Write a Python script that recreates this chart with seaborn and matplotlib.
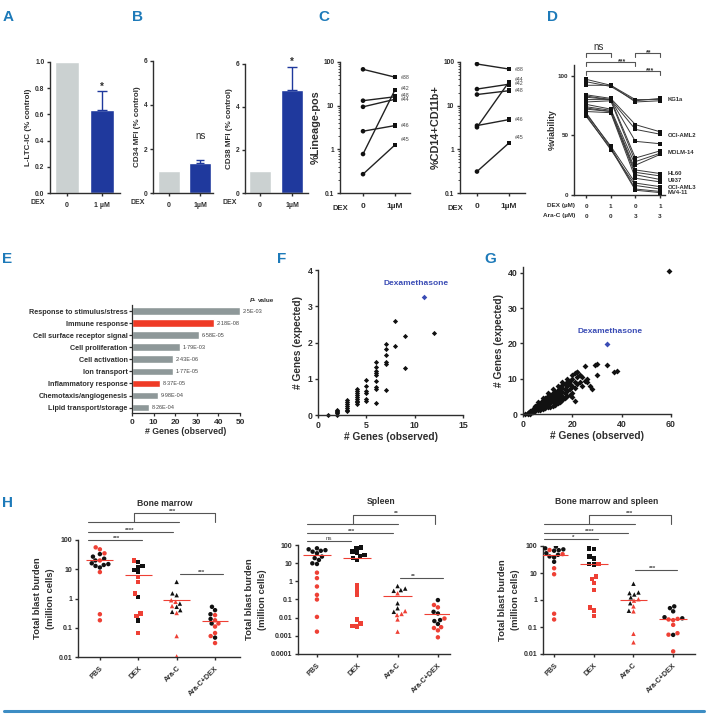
import numpy as np
import pandas as pd
import matplotlib
matplotlib.use("Agg")
import matplotlib.pyplot as plt
import seaborn as sns
from matplotlib.lines import Line2D
from matplotlib.transforms import blended_transform_factory

# ---------------- data ----------------
A_dex = ["0", "1 µM"]
A_ltcic = [1.0, 0.63]
A_err = [0.0, 0.145]

B_dex = ["0", "1µM"]
B_cd34 = [1.0, 1.35]
B_cd34_err = [0.0, 0.13]
B_cd38 = [1.0, 4.8]
B_cd38_err = [0.0, 1.05]

C_dex = ["0", "1µM"]
C_ids = ["#38", "#42", "#48", "#46", "#44", "#45"]
C_lin_ctrl = [68, 13, 9.4, 2.6, 0.78, 0.27]
C_lin_dex = [45, 16, 14, 3.5, 23, 1.26]
C_cd14_ctrl = [90, 24, 18, 3.5, 3.2, 0.31]
C_cd14_dex = [69, 31, 22, 4.8, 35, 1.4]

D_dex = ["0", "1", "0", "1"]
D_arac = ["0", "0", "3", "3"]
D_viability = [
    [97, 92, 80, 80], [95, 91, 79, 81], [92, 92, 78, 79],
    [84, 81, 59, 53], [82, 80, 55, 51], [83, 80, 45, 43],
    [80, 80, 31, 37], [78, 79, 28, 35], [76, 72, 25, 34],
    [74, 71, 21, 18], [72, 70, 19, 16], [73, 70, 17, 13],
    [70, 69, 14, 11], [68, 41, 10, 7], [67, 38, 8, 5],
    [69, 40, 5, 3], [66, 39, 4, 2],
]
D_cell_lines = ["KG1a", "OCI-AML2", "MOLM-14", "HL60", "U937", "OCI-AML3", "MV4-11"]
D_cell_line_y = [80, 50, 36, 18, 12, 6.5, 2.0]

E_terms = ["Response to stimulus/stress", "Immune response", "Cell surface receptor signal",
           "Cell proliferation", "Cell activation", "Ion transport", "Inflammatory response",
           "Chemotaxis/angiogenesis", "Lipid transport/storage"]
E_genes = [50, 38, 31, 22, 19, 19, 13, 12, 8]
E_pvalues = ["2·5E-03", "2·18E-08", "6·58E-05", "1·79E-03", "2·43E-06", "1·77E-05",
             "8·37E-05", "9·98E-04", "8·26E-04"]
E_highlight = [False, True, False, False, False, False, True, False, False]

F_observed = [1, 2, 2, 2, 2, 2, 3, 3, 3, 3, 3, 3, 3, 4, 4, 4, 4, 4, 4, 4, 4, 4,
              5, 5, 5, 5, 5, 5, 6, 6, 6, 6, 6, 6, 6, 6, 6, 7, 7, 7, 7, 7, 7, 8, 8, 9, 9, 12]
F_expected = [0, 0, 0.05, 0.08, 0.1, 0.13, 0.1, 0.15, 0.2, 0.25, 0.3, 0.35, 0.42,
              0.3, 0.35, 0.4, 0.45, 0.5, 0.55, 0.6, 0.65, 0.72,
              0.38, 0.45, 0.6, 0.65, 0.8, 0.97,
              0.32, 0.72, 0.78, 0.95, 1.1, 1.15, 1.22, 1.32, 1.45,
              0.7, 1.42, 1.47, 1.65, 1.82, 1.97, 1.9, 2.6, 1.3, 2.17, 2.27]
F_dexa = (11, 3.25)

G_observed = [1, 2, 2, 2, 3, 3, 3, 3, 4, 4, 4, 5, 5, 5, 5, 6, 6, 6, 6, 7, 7, 7, 7,
              8, 8, 8, 8, 8, 9, 9, 9, 9, 9, 10, 10, 10, 10, 10, 11, 11, 11, 11, 11,
              12, 12, 12, 12, 12, 13, 13, 13, 13, 13, 14, 14, 14, 14, 14,
              15, 15, 15, 15, 15, 16, 16, 16, 16, 16, 17, 17, 17, 17, 18, 18, 18, 18,
              19, 19, 19, 19, 20, 20, 20, 20, 21, 21, 21, 21, 22, 22, 22, 23, 24, 25, 25,
              26, 27, 28, 29, 30, 30, 34, 37, 38, 59,
              6, 8, 10, 12, 14, 16, 18, 20, 22, 23, 24, 26]
G_expected = [0.1, 0.0, 0.2, 0.4, 0.1, 0.3, 0.6, 0.9, 0.5, 1.0, 1.4, 0.8, 1.3, 1.9, 2.2,
              1.0, 1.6, 2.3, 2.8, 1.2, 2.0, 2.6, 3.2,
              1.5, 2.2, 3.0, 3.6, 4.0, 1.6, 2.5, 3.2, 3.9, 4.5, 1.9, 2.8, 3.5, 4.2, 5.0,
              2.0, 3.0, 3.8, 4.6, 5.4, 2.4, 3.3, 4.2, 5.1, 6.0, 2.6, 3.6, 4.5, 5.5, 6.3,
              3.0, 4.0, 5.0, 6.0, 6.8, 3.5, 4.5, 5.5, 6.5, 7.3, 4.0, 5.2, 6.2, 7.5, 8.2,
              4.5, 6.0, 7.0, 8.5, 5.0, 6.5, 8.0, 9.0, 5.5, 7.0, 8.5, 9.5,
              4.8, 6.0, 8.0, 10.0, 3.8, 7.5, 9.0, 11.5, 10.5, 12.0, 8.5, 9.0, 10.5,
              9.5, 13.5, 9.0, 8.0, 7.0, 14.0, 11.0, 14.2, 14.0, 12.0, 12.3, 40.5,
              3.4, 4.6, 6.0, 7.2, 8.0, 9.2, 10.0, 11.0, 12.0, 11.0, 8.0, 10.0]
G_dexa = (34, 19.8)

H_groups = ["PBS", "DEX", "Ara-C", "Ara-C+DEX"]
bm_black = [[33, 27, 23, 20, 16, 15, 14, 13, 11.5],
            [18, 13, 11.5, 9.3, 8, 1.15, 0.18],
            [3.7, 1.5, 1.3, 0.67, 0.52, 0.4, 0.35],
            [0.52, 0.4, 0.29, 0.2, 0.14, 0.046]]
bm_red = [[56, 48, 35, 20, 8, 0.29, 0.18],
          [20, 5.5, 3.7, 1.5, 0.31, 0.25, 0.067],
          [0.87, 0.77, 0.55, 0.32, 0.052, 0.0105],
          [0.27, 0.18, 0.14, 0.11, 0.066, 0.052, 0.03]]
bm_median = [20, 6.3, 0.87, 0.17]

sp_black = [[66, 58, 52, 48, 43, 35, 23, 19, 15, 9.8, 9],
            [74, 66, 43, 38, 28, 24, 19, 15],
            [0.55, 0.4, 0.33, 0.3, 0.062, 0.033, 0.021],
            [0.093, 0.021, 0.017, 0.0074, 0.0065, 0.0045]]
sp_red = [[3, 1.5, 0.52, 0.18, 0.1, 0.011, 0.0017],
          [0.63, 0.36, 0.19, 0.0081, 0.0049, 0.0032, 0.0035],
          [0.22, 0.023, 0.016, 0.014, 0.008, 0.0017],
          [0.05, 0.037, 0.009, 0.003, 0.0027, 0.002, 0.00083]]
sp_median = [28, 20, 0.15, 0.015]

bs_black = [[95, 88, 82, 75, 70, 67, 54, 47, 41, 38, 26],
            [82, 78, 41, 35, 22, 21],
            [4, 1.9, 1.8, 1.6, 1.25, 0.76, 0.4],
            [0.58, 0.5, 0.38, 0.23, 0.21, 0.051]]
bs_red = [[71, 50, 15, 9, 0.31, 0.19],
          [22, 7.4, 6, 4.2, 2.4, 0.52, 0.41, 0.26],
          [1.07, 0.95, 0.58, 0.38, 0.056, 0.027],
          [0.2, 0.19, 0.18, 0.12, 0.059, 0.052, 0.0125]]
bs_median = [45, 22, 1.0, 0.19]

# ---------------- style ----------------
sns.set_theme(style="ticks")
plt.rcParams["font.family"] = ["Liberation Sans", "DejaVu Sans"]
plt.rcParams["font.weight"] = "bold"
plt.rcParams["axes.labelweight"] = "bold"
INK = "#2e2e2e"
GRAY = "#cbd1d1"
BLUE = "#1f399d"
LETTER = "#1d7ab9"
EGRAY = "#8e9899"
ERED = "#ef3b26"
HRED = "#ee4035"
DBLUE = "#3a4cb5"
plt.rcParams["text.color"] = INK
plt.rcParams["axes.labelcolor"] = INK

W, Hh = 708, 714
fig = plt.figure(figsize=(W / 100, Hh / 100), dpi=100)


def add_ax(l, t, r, b):
    return fig.add_axes([l / W, 1 - b / Hh, (r - l) / W, (b - t) / Hh])


def ftext(x, y, s, **kw):
    fig.text(x / W, 1 - y / Hh, s, **kw)


def style(ax, lw=1.0, fs=5.0):
    sns.despine(ax=ax)
    for sp in ["left", "bottom"]:
        ax.spines[sp].set_color(INK)
        ax.spines[sp].set_linewidth(lw)
    ax.tick_params(colors=INK, width=lw, length=2.5, pad=1.5, labelsize=fs)
    ax.tick_params(which="minor", colors=INK, width=0.6, length=1.5)
    ax.set_facecolor("none")


def bline(ax, x0, x1, ypx, tips=0.0, color="#555555", lw=0.8):
    tr = blended_transform_factory(ax.transData, fig.transFigure)
    y = 1 - ypx / Hh
    if tips:
        yt = 1 - (ypx + tips) / Hh
        xs, ys = [x0, x0, x1, x1], [yt, y, y, yt]
    else:
        xs, ys = [x0, x1], [y, y]
    fig.add_artist(Line2D(xs, ys, transform=tr, color=color, lw=lw, clip_on=False))


def btext(ax, x, ypx, s, **kw):
    tr = blended_transform_factory(ax.transData, fig.transFigure)
    ax.text(x, 1 - ypx / Hh, s, transform=tr, clip_on=False, **kw)


# panel letters
for lab, (x, y) in {"A": (3, 17), "B": (132, 17), "C": (318, 17), "D": (547, 17),
                    "E": (2, 259), "F": (277, 259), "G": (484, 259), "H": (2, 503)}.items():
    ftext(x, y, lab, color=LETTER, fontsize=11, fontweight="bold", va="center", ha="left")

# ---------------- A ----------------
ax = add_ax(50, 62, 120, 193)
sns.barplot(x=A_dex, y=A_ltcic, hue=A_dex, palette=[GRAY, BLUE], width=0.69,
            legend=False, saturation=1, ax=ax)
ax.errorbar([1], [A_ltcic[1]], yerr=[[0], [A_err[1]]], fmt="none", ecolor=BLUE,
            capsize=3.5, elinewidth=1, capthick=1)
style(ax, fs=4.8)
ax.set_xlim(-0.486, 1.51)
ax.set_ylim(0, 1.0)
ax.set_yticks([0, 0.2, 0.4, 0.6, 0.8, 1.0])
ax.set_yticklabels(["0.0", "0.2", "0.4", "0.6", "0.8", "1.0"])
ax.set_xticks([0, 1])
ax.set_xticklabels(A_dex, fontsize=5)
ax.tick_params(axis="x", pad=4)
ax.set_ylabel("L-LTC-IC (% control)", fontsize=5.8, labelpad=2)
ax.text(1, 0.79, "*", ha="center", va="baseline", fontsize=7, color=INK)
ftext(38, 203, "DEX", fontsize=5, ha="center", va="center", fontweight="bold")

# ---------------- B ----------------
ax = add_ax(153, 61, 213, 193)
sns.barplot(x=B_dex, y=B_cd34, hue=B_dex, palette=[GRAY, BLUE], width=0.7,
            legend=False, saturation=1, ax=ax)
ax.errorbar([1], [B_cd34[1]], yerr=[[0], [B_cd34_err[1]]], fmt="none", ecolor=BLUE,
            capsize=3, elinewidth=1, capthick=1)
style(ax, fs=4.8)
ax.set_xlim(-0.51, 1.4)
ax.set_ylim(0, 6)
ax.set_yticks([0, 2, 4, 6])
ax.set_xticks([0, 1])
ax.set_xticklabels(B_dex, fontsize=5)
ax.tick_params(axis="x", pad=4)
ax.set_ylabel("CD34 MFI (% control)", fontsize=5.8, labelpad=2)
ax.text(1, 2.6, "ns", ha="center", va="center", fontsize=7, fontweight="normal", color=INK)
ftext(138, 203, "DEX", fontsize=5, ha="center", va="center", fontweight="bold")

ax = add_ax(245, 64, 308, 193)
sns.barplot(x=B_dex, y=B_cd38, hue=B_dex, palette=[GRAY, BLUE], width=0.69,
            legend=False, saturation=1, ax=ax)
ax.errorbar([1], [B_cd38[1]], yerr=[[0], [B_cd38_err[1]]], fmt="none", ecolor=BLUE,
            capsize=3.5, elinewidth=1, capthick=1)
style(ax, fs=4.8)
ax.set_xlim(-0.47, 1.5)
ax.set_ylim(0, 6)
ax.set_yticks([0, 2, 4, 6])
ax.set_xticks([0, 1])
ax.set_xticklabels(B_dex, fontsize=5)
ax.tick_params(axis="x", pad=4)
ax.set_ylabel("CD38 MFI (% control)", fontsize=5.8, labelpad=2)
ax.text(1, 5.95, "*", ha="center", va="baseline", fontsize=7, color=INK, clip_on=False)
ftext(230, 203, "DEX", fontsize=5, ha="center", va="center", fontweight="bold")

# ---------------- C ----------------
def c_panel(box, xlim, ctrl, dex, ylabel, label_y, dex_x):
    ax = add_ax(*box)
    rows = []
    for i, sid in enumerate(C_ids):
        rows.append((sid, 0, C_dex[0], ctrl[i]))
        rows.append((sid, 1, C_dex[1], dex[i]))
    df = pd.DataFrame(rows, columns=["id", "pos", "dex", "val"])
    ax.set_yscale("log")
    sns.lineplot(data=df, x="pos", y="val", units="id", estimator=None, color="#222222",
                 lw=1.0, ax=ax, legend=False)
    sns.scatterplot(data=df, x="pos", y="val", style="dex", markers={"0": "o", "1µM": "s"},
                    color="#111111", s=11, linewidth=0, legend=False, ax=ax, zorder=3)
    style(ax, fs=4.8)
    ax.set_ylim(0.1, 100)
    ax.set_yticks([0.1, 1, 10, 100])
    ax.set_yticklabels(["0.1", "1", "10", "100"])
    ax.set_xlim(*xlim)
    ax.set_xticks([0, 1])
    ax.set_xticklabels(C_dex, fontsize=6)
    ax.tick_params(axis="x", pad=5)
    ax.set_xlabel("")
    ax.set_ylabel(ylabel, fontsize=7.8, labelpad=2)
    for sid, ly in zip(C_ids, label_y):
        ax.text(1.2, ly, sid, fontsize=3.8, va="center", ha="left", color="#444444",
                fontweight="normal", clip_on=False)
    ftext(dex_x, 208, "DEX", fontsize=5.5, ha="center", va="center", fontweight="bold")


c_panel((340, 62, 410, 193), (-0.72, 1.47), C_lin_ctrl, C_lin_dex, "%Lineage-pos",
        [45, 25, 17.5, 3.5, 14.0, 1.7], 340)
c_panel((460, 62, 525, 193), (-0.53, 1.5), C_cd14_ctrl, C_cd14_dex, "%CD14+CD11b+",
        [69, 33, 22, 4.8, 40, 1.9], 455)

# ---------------- D ----------------
ax = add_ax(574, 65, 665, 195)
rows = []
for r, vals in enumerate(D_viability):
    for p, v in enumerate(vals):
        rows.append((r, p, v))
dfd = pd.DataFrame(rows, columns=["rep", "pos", "val"])
sns.lineplot(data=dfd, x="pos", y="val", units="rep", estimator=None, color="#3a3a3a",
             lw=0.7, ax=ax, legend=False)
sns.scatterplot(data=dfd, x="pos", y="val", marker="s", color="#111111", s=9, linewidth=0,
                legend=False, ax=ax, zorder=3)
style(ax, fs=4.5)
ax.set_ylim(0, 109)
ax.set_xlim(-0.49, 3.2)
ax.set_yticks([0, 50, 100])
ax.set_xticks([0, 1, 2, 3])
ax.set_xticklabels([])
ax.set_xlabel("")
ax.set_ylabel("%viability", fontsize=6.3, labelpad=1)
for name, y in zip(D_cell_lines, D_cell_line_y):
    ax.text(3.3, y, name, fontsize=4.2, va="center", ha="left", clip_on=False, color=INK)
bline(ax, 0, 1, 53, tips=4)
btext(ax, 0.5, 50, "ns", fontsize=7, fontweight="normal", ha="center", va="baseline")
bline(ax, 0, 2, 62, tips=4)
btext(ax, 1.45, 63, "***", fontsize=5, ha="center", va="baseline")
bline(ax, 2, 3, 53, tips=4)
btext(ax, 2.55, 54, "**", fontsize=5, ha="center", va="baseline")
bline(ax, 0, 3, 71, tips=4)
btext(ax, 2.6, 72, "***", fontsize=5, ha="center", va="baseline")
ftext(575, 206, "DEX (µM)", fontsize=4.6, ha="right", va="center")
ftext(575, 216, "Ara-C (µM)", fontsize=4.6, ha="right", va="center")
for p in range(4):
    btext(ax, p, 206, D_dex[p], fontsize=4.6, ha="center", va="center")
    btext(ax, p, 216, D_arac[p], fontsize=4.6, ha="center", va="center")

# ---------------- E ----------------
ax = add_ax(132, 305, 240, 413)
e_colors = [ERED if h else EGRAY for h in E_highlight]
sns.barplot(x=E_genes, y=E_terms, hue=E_terms, palette=e_colors, orient="h", width=0.64,
            legend=False, saturation=1, ax=ax)
style(ax, lw=0.9, fs=6)
ax.tick_params(axis="y", labelsize=5.2, length=2, pad=1)
ax.set_ylim(8.45, -0.5)
ax.set_xlim(0, 50)
ax.set_xticks([0, 10, 20, 30, 40, 50])
for i, (v, p) in enumerate(zip(E_genes, E_pvalues)):
    ax.text(v + 1.2, i, p, fontsize=4.0, va="center", ha="left", fontweight="normal",
            color="#444444", clip_on=False)
ax.set_xlabel("# Genes (observed)", fontsize=6.3, labelpad=1)
ax.set_ylabel("")
ftext(250, 300, "P-", fontsize=4.6, fontstyle="italic", ha="left", va="center")
ftext(258, 300, "value", fontsize=4.6, ha="left", va="center")

# ---------------- F ----------------
ax = add_ax(318, 270, 463, 415)
sns.scatterplot(x=F_observed, y=F_expected, marker="D", s=7, color="#111111", linewidth=0,
                clip_on=False, ax=ax)
sns.scatterplot(x=[F_dexa[0]], y=[F_dexa[1]], marker="D", s=8, color=DBLUE, linewidth=0, ax=ax)
style(ax, fs=6.3)
ax.set_xlim(0, 15)
ax.set_ylim(0, 4)
ax.set_xticks([0, 5, 10, 15])
ax.set_yticks([0, 1, 2, 3, 4])
ax.text(10.1, 3.64, "Dexamethasone", color=DBLUE, fontsize=6, ha="center", va="center")
ax.set_xlabel("# Genes (observed)", fontsize=7.3, labelpad=2)
ax.set_ylabel("# Genes (expected)", fontsize=7.3, labelpad=3)

# ---------------- G ----------------
ax = add_ax(523, 267, 671, 414)
sns.scatterplot(x=G_observed, y=G_expected, marker="D", s=9, color="#111111", linewidth=0,
                clip_on=False, ax=ax)
sns.scatterplot(x=[G_dexa[0]], y=[G_dexa[1]], marker="D", s=9, color=DBLUE, linewidth=0, ax=ax)
style(ax, fs=6.3)
ax.set_xlim(0, 60)
ax.set_ylim(0, 41.7)
ax.set_xticks([0, 20, 40, 60])
ax.set_yticks([0, 10, 20, 30, 40])
ax.text(35.3, 23.3, "Dexamethasone", color=DBLUE, fontsize=6, ha="center", va="center")
ax.set_xlabel("# Genes (observed)", fontsize=7.3, labelpad=2)
ax.set_ylabel("# Genes (expected)", fontsize=7.3, labelpad=3)

# ---------------- H ----------------
H_markers = ["o", "s", "^", "o"]


def h_panel(box, xlim, title, title_xy, black, red, median, ylim, yticks, ytl,
            lines, brace, stars):
    ax = add_ax(*box)
    ax.set_yscale("log")
    rows = []
    for gi, g in enumerate(H_groups):
        for v in black[gi]:
            rows.append((g, "black", v))
        for v in red[gi]:
            rows.append((g, "red", v))
    df = pd.DataFrame(rows, columns=["group", "color", "value"])
    for gi, g in enumerate(H_groups):
        sns.swarmplot(data=df[df.group == g], x="group", y="value", hue="color",
                      order=H_groups, hue_order=["black", "red"],
                      palette={"black": "#111111", "red": HRED}, marker=H_markers[gi],
                      size=3.2, linewidth=0, legend=False, ax=ax)
    pos = np.arange(len(H_groups))
    ax.hlines(median, pos - 0.35, pos + 0.35, color=HRED, lw=0.8, zorder=4)
    style(ax, fs=5.0)
    ax.set_ylim(*ylim)
    ax.set_xlim(*xlim)
    ax.set_yticks(yticks)
    ax.set_yticklabels(ytl)
    ax.yaxis.set_minor_locator(matplotlib.ticker.NullLocator())
    ax.set_xticks(pos)
    ax.set_xticklabels(H_groups, rotation=45, ha="right", rotation_mode="anchor", fontsize=5.2)
    ax.tick_params(axis="x", pad=3)
    ax.set_xlabel("")
    ax.set_ylabel("Total blast burden\n(million cells)", fontsize=6.8, labelpad=3,
                  linespacing=1.5)
    ftext(title_xy[0], title_xy[1], title, fontsize=6.2, ha="center", va="center")
    for x0, x1, y in lines:
        bline(ax, x0, x1, y)
    bx0, bx1, ylow, ytop = brace
    tr = blended_transform_factory(ax.transData, fig.transFigure)
    fig.add_artist(Line2D([bx0, bx0, bx1, bx1],
                          [1 - ylow / Hh, 1 - ytop / Hh, 1 - ytop / Hh, 1 - ylow / Hh],
                          transform=tr, color="#555555", lw=0.8, clip_on=False))
    for s, x, y in stars:
        btext(ax, x, y - 0.5, s, fontsize=4.5, ha="center", va="baseline", color="#444444",
              fontweight="normal" if s == "ns" else "bold")


h_panel((78, 540, 240, 657), (-0.57, 3.65), "Bone marrow", (165, 503),
        bm_black, bm_red, bm_median, (0.01, 100), [0.01, 0.1, 1, 10, 100],
        ["0.01", "0.1", "1", "10", "100"],
        [(-0.3, 1.1, 540), (-0.3, 1.9, 532), (-0.3, 2.05, 522), (2.1, 3.2, 574)],
        (0.9, 3.0, 522, 513),
        [("***", 0.44, 540), ("****", 0.78, 532), ("***", 1.9, 513), ("***", 2.65, 574)])

h_panel((298, 545, 450, 654), (-0.47, 3.3), "Spleen", (381, 502),
        sp_black, sp_red, sp_median, (1e-4, 100), [1e-4, 1e-3, 0.01, 0.1, 1, 10, 100],
        ["0.0001", "0.001", "0.01", "0.1", "1", "10", "100"],
        [(-0.25, 0.85, 541), (-0.25, 1.88, 533), (-0.25, 2.0, 524), (2.05, 3.125, 578)],
        (0.9, 2.93, 524, 515),
        [("ns", 0.3, 541), ("***", 0.87, 533), ("**", 1.98, 515), ("**", 2.4, 578)])

h_panel((543, 546, 695, 654), (-0.28, 3.55), "Bone marrow and spleen", (607, 502),
        bs_black, bs_red, bs_median, (0.01, 100), [0.01, 0.1, 1, 10, 100],
        ["0.01", "0.1", "1", "10", "100"],
        [(-0.25, 1.11, 539), (-0.25, 1.86, 533), (-0.25, 2.03, 524), (2.03, 3.09, 570)],
        (0.88, 2.95, 524, 515),
        [("*", 0.48, 539), ("****", 0.9, 533), ("***", 1.9, 515), ("***", 2.47, 570)])

# bottom rule
fig.add_artist(Line2D([4 / W, 704 / W], [1 - 711 / Hh] * 2, color="#3d8dc4", lw=2.2))

fig.savefig("out.png", dpi=100)
